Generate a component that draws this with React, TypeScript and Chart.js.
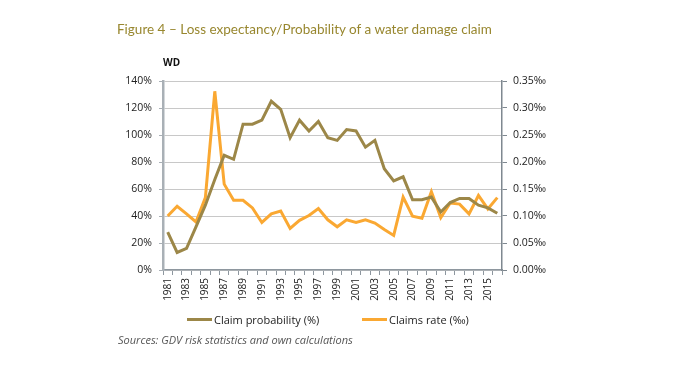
import React, { useEffect, useRef } from "react";
import { Chart, registerables } from "chart.js";

Chart.register(...registerables);

const years: string[] = [
  "1981","1982","1983","1984","1985","1986","1987","1988","1989","1990",
  "1991","1992","1993","1994","1995","1996","1997","1998","1999","2000",
  "2001","2002","2003","2004","2005","2006","2007","2008","2009","2010",
  "2011","2012","2013","2014","2015","2016",
];

// Claim probability (%) — left axis
const claimProbability: number[] = [
  28, 13, 16, 32, 48, 67, 85, 82, 108, 108,
  111, 125, 119, 98, 111, 103, 110, 98, 96, 104,
  103, 91, 96, 75, 66, 69, 52, 52, 54, 43,
  50, 53, 53, 48, 46, 42,
];

// Claims rate (‰) — right axis
const claimsRate: number[] = [
  0.100, 0.118, 0.104, 0.089, 0.134, 0.331, 0.159, 0.129, 0.129, 0.115,
  0.088, 0.104, 0.109, 0.077, 0.092, 0.101, 0.114, 0.093, 0.080, 0.093,
  0.088, 0.093, 0.087, 0.075, 0.064, 0.135, 0.0995, 0.096, 0.145, 0.097,
  0.124, 0.122, 0.104, 0.138, 0.113, 0.134,
];

const leftTicks: number[] = [0, 20, 40, 60, 80, 100, 120, 140];
const rightTicks: number[] = [0, 0.05, 0.1, 0.15, 0.2, 0.25, 0.3, 0.35];

const OLIVE = "#9C8748";
const ORANGE = "#FAA832";
const FONT = "'Open Sans', sans-serif";

export default function App() {
  const ref = useRef<HTMLCanvasElement | null>(null);

  useEffect(() => {
    if (!ref.current) return;
    const chart = new Chart(ref.current, {
      type: "line",
      data: {
        labels: years,
        datasets: [
          {
            label: "Claim probability (%)",
            data: claimProbability,
            borderColor: OLIVE,
            backgroundColor: OLIVE,
            borderWidth: 3,
            pointRadius: 0,
            tension: 0,
            yAxisID: "y",
          },
          {
            label: "Claims rate (‰)",
            data: claimsRate,
            borderColor: ORANGE,
            backgroundColor: ORANGE,
            borderWidth: 3,
            pointRadius: 0,
            tension: 0,
            yAxisID: "y1",
          },
        ],
      },
      options: {
        responsive: false,
        animation: false,
        layout: { padding: { top: 81, left: 0, right: 0, bottom: 0 } },
        plugins: {
          legend: { display: false },
          tooltip: { enabled: false },
          title: { display: false },
        },
        scales: {
          x: {
            type: "category",
            offset: true,
            afterFit: (s: any) => {
              s.height = 110;
            },
            border: { display: true, color: "#8E979F", width: 1.5 },
            grid: {
              display: true,
              drawOnChartArea: false,
              drawTicks: true,
              tickLength: 5,
              tickColor: "#8E979F",
              offset: true,
            },
            ticks: {
              autoSkip: false,
              maxRotation: 90,
              minRotation: 90,
              padding: 3,
              color: "#222",
              font: { family: FONT, size: 10 },
              callback: (_v: any, i: number) => (i % 2 === 0 ? years[i] : ""),
            },
          },
          y: {
            position: "left",
            min: 0,
            max: 140,
            afterFit: (s: any) => {
              s.width = 163;
            },
            afterBuildTicks: (s: any) => {
              s.ticks = leftTicks.map((v) => ({ value: v }));
            },
            border: { display: true, color: "#A9B0B6", width: 2.5 },
            grid: {
              color: "#C8C8C8",
              lineWidth: 1,
              borderDash: [1, 2],
              tickColor: "#A9B0B6",
              tickBorderDash: [],
              tickLength: 4,
            },
            ticks: {
              padding: 7,
              color: "#222",
              font: { family: FONT, size: 10.5 },
              callback: (v: any) => `${v}%`,
            },
          },
          y1: {
            position: "right",
            min: 0,
            max: 0.35,
            afterFit: (s: any) => {
              s.width = 172;
            },
            afterBuildTicks: (s: any) => {
              s.ticks = rightTicks.map((v) => ({ value: v }));
            },
            border: { display: true, color: "#7F8890", width: 1.5 },
            grid: {
              drawOnChartArea: false,
              tickColor: "#7F8890",
              tickLength: 5,
            },
            ticks: {
              padding: 6,
              color: "#222",
              font: { family: FONT, size: 10.5 },
              callback: (v: any) => `${Number(v).toFixed(2)}‰`,
            },
          },
        },
      },
    });
    return () => chart.destroy();
  }, []);

  const legendItem = (color: string, text: string, left: number) => (
    <div
      style={{
        position: "absolute",
        left,
        top: 312,
        display: "flex",
        alignItems: "center",
        fontFamily: FONT,
        fontSize: 11,
        color: "#222",
        whiteSpace: "nowrap",
      }}
    >
      <span
        style={{
          display: "inline-block",
          width: 25,
          height: 3,
          background: color,
          marginRight: 2,
        }}
      />
      <span>{text}</span>
    </div>
  );

  return (
    <div
      style={{
        position: "absolute",
        left: 0,
        top: 0,
        width: 674,
        height: 380,
        background: "#fff",
        overflow: "hidden",
      }}
    >
      <canvas
        ref={ref}
        width={674}
        height={380}
        style={{ position: "absolute", left: 0, top: 0 }}
      />
      <div
        style={{
          position: "absolute",
          left: 117,
          top: 21,
          fontFamily: "Lato, sans-serif",
          fontSize: 13.5,
          color: "#98872F",
          whiteSpace: "nowrap",
        }}
      >
        Figure 4 – Loss expectancy/Probability of a water damage claim
      </div>
      <div
        style={{
          position: "absolute",
          left: 163,
          top: 55,
          fontFamily: FONT,
          fontSize: 10,
          fontWeight: 700,
          color: "#111",
        }}
      >
        WD
      </div>
      {legendItem(OLIVE, "Claim probability (%)", 187)}
      {legendItem(ORANGE, "Claims rate (‰)", 362)}
      <div
        style={{
          position: "absolute",
          left: 118,
          top: 332,
          fontFamily: FONT,
          fontSize: 11,
          fontStyle: "italic",
          color: "#555",
          whiteSpace: "nowrap",
        }}
      >
        Sources: GDV risk statistics and own calculations
      </div>
    </div>
  );
}
